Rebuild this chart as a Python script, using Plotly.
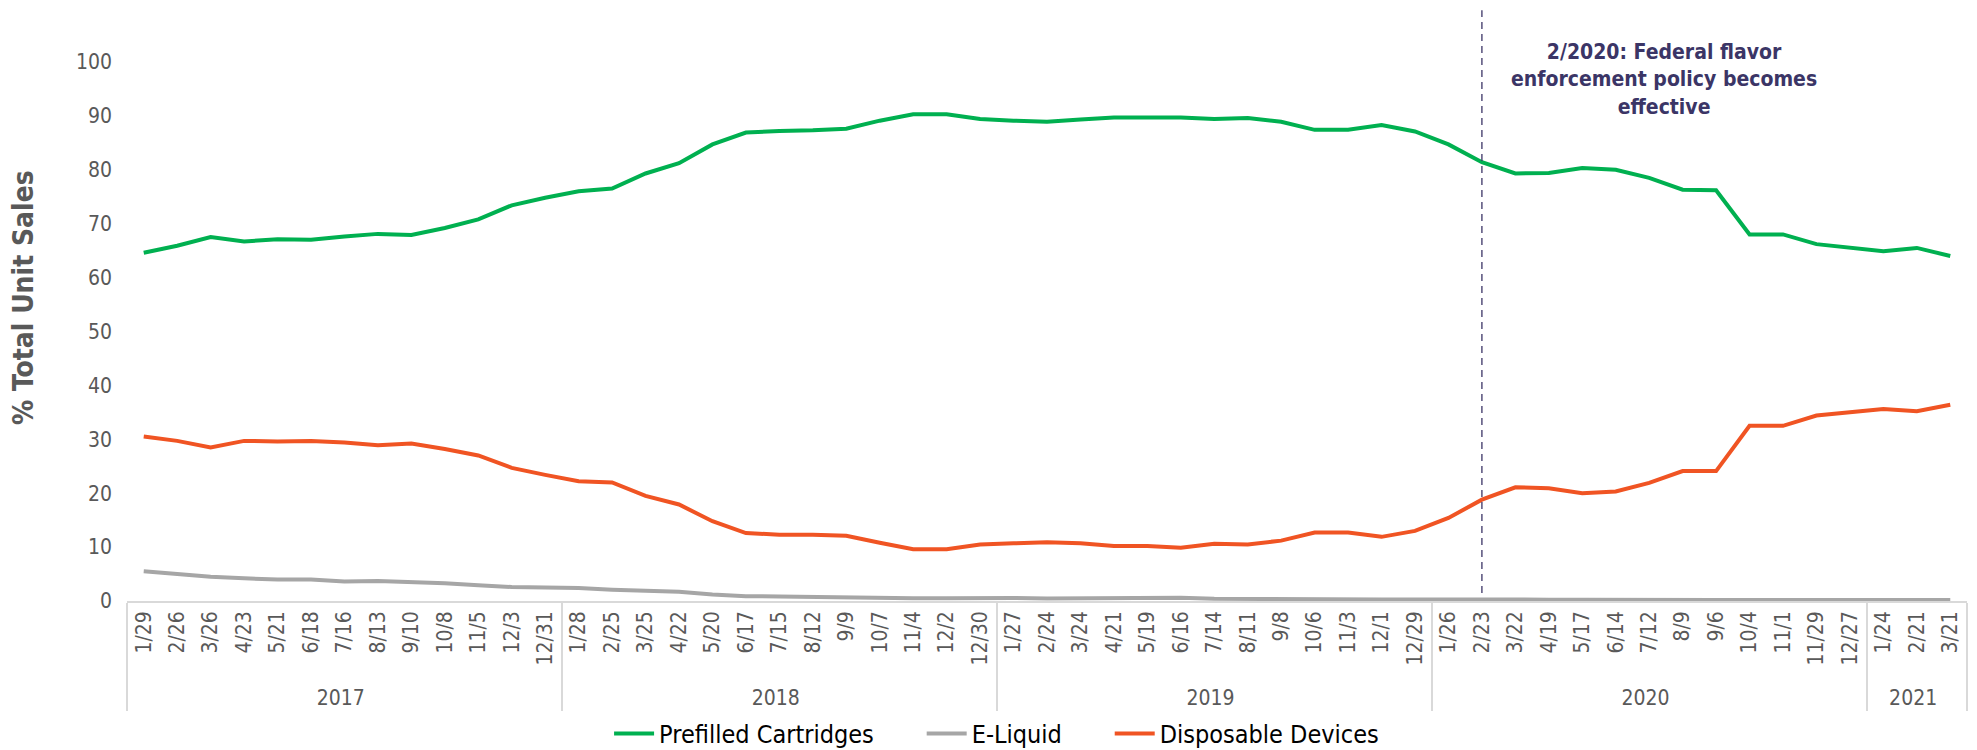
import plotly.graph_objects as go

years = ["2017"] * 13 + ["2018"] * 13 + ["2019"] * 13 + ["2020"] * 13 + ["2021"] * 3
periods = [
    "1/29", "2/26", "3/26", "4/23", "5/21", "6/18", "7/16", "8/13", "9/10", "10/8", "11/5", "12/3", "12/31",
    "1/28", "2/25", "3/25", "4/22", "5/20", "6/17", "7/15", "8/12", "9/9", "10/7", "11/4", "12/2", "12/30",
    "1/27", "2/24", "3/24", "4/21", "5/19", "6/16", "7/14", "8/11", "9/8", "10/6", "11/3", "12/1", "12/29",
    "1/26", "2/23", "3/22", "4/19", "5/17", "6/14", "7/12", "8/9", "9/6", "10/4", "11/1", "11/29", "12/27",
    "1/24", "2/21", "3/21",
]

prefilled = [
    64.6, 65.9, 67.5, 66.7, 67.1, 67.0, 67.6, 68.1, 67.9, 69.2, 70.8, 73.4, 74.8,
    76.0, 76.5, 79.3, 81.2, 84.7, 86.9, 87.2, 87.3, 87.6, 89.1, 90.3, 90.3, 89.4,
    89.1, 88.9, 89.3, 89.7, 89.7, 89.7, 89.4, 89.6, 88.9, 87.4, 87.4, 88.3, 87.1,
    84.7, 81.4, 79.3, 79.4, 80.3, 80.0, 78.5, 76.3, 76.2, 68.0, 68.0, 66.2, 65.5,
    64.9, 65.5, 64.0,
]
eliquid = [
    5.5, 5.0, 4.5, 4.2, 4.0, 4.0, 3.6, 3.7, 3.5, 3.3, 2.9, 2.6, 2.5,
    2.4, 2.1, 1.9, 1.7, 1.2, 0.9, 0.85, 0.75, 0.7, 0.5, 0.5, 0.5, 0.6,
    0.55, 0.45, 0.45, 0.45, 0.45, 0.6, 0.4, 0.35, 0.3, 0.3, 0.3, 0.3, 0.3,
    0.25, 0.25, 0.25, 0.25, 0.25, 0.2, 0.2, 0.2, 0.2, 0.2, 0.2, 0.2, 0.2,
    0.2, 0.2, 0.2,
]
disposable = [
    30.5, 29.7, 28.5, 29.7, 29.6, 29.7, 29.4, 28.9, 29.2, 28.2, 27.0, 24.7, 23.4,
    22.2, 22.0, 19.5, 17.9, 14.8, 12.6, 12.3, 12.3, 12.1, 10.8, 9.6, 9.6, 10.5,
    10.7, 10.9, 10.7, 10.2, 10.2, 9.9, 10.6, 10.5, 11.2, 12.7, 12.7, 11.9, 13.0,
    15.4, 18.8, 21.1, 20.9, 20.0, 20.3, 21.9, 24.1, 24.1, 32.5, 32.5, 34.4, 35.0,
    35.6, 35.2, 36.4,
]

series_names = ["Prefilled Cartridges", "E-Liquid", "Disposable Devices"]
series_colors = ["#00B050", "#A6A6A6", "#F05423"]

event_year = "2020"
event_period = "2/23"
event_span = [1.5, 109.6]
event_text = "2/2020: Federal flavor<br>enforcement policy becomes<br>effective"

FONT = "DejaVu Sans Condensed, Tahoma, DejaVu Sans, sans-serif"
x = [years, periods]
PAD = "\u00a0" * 6  # extra spacing between legend entries, as in the reference

fig = go.Figure()
for vals, name, color in zip([prefilled, eliquid, disposable], series_names, series_colors):
    fig.add_trace(go.Scatter(x=x, y=vals, mode="lines", name=name + PAD,
                             line=dict(color=color, width=4)))
fig.add_trace(go.Scatter(x=[[event_year, event_year], [event_period, event_period]], y=event_span,
                         mode="lines", showlegend=False, hoverinfo="skip",
                         line=dict(color="#3B3566", width=1.3, dash="7px,5px")))

fig.add_annotation(x=0.8355, xref="paper", xanchor="center", y=96.8, yref="y", yanchor="middle",
                   text="<b>" + event_text + "</b>",
                   showarrow=False, align="center",
                   font=dict(family=FONT, size=21, color="#3B3566"))

fig.add_annotation(x=-0.0565, xref="paper", xanchor="center", y=56.2, yref="y", yanchor="middle",
                   text="<b>% Total Unit Sales</b>", textangle=-90, showarrow=False,
                   font=dict(family=FONT, size=28, color="#595959"))

fig.update_layout(
    width=1977, height=750,
    margin=dict(l=127, r=10, t=8, b=149, autoexpand=False),
    paper_bgcolor="white", plot_bgcolor="white",
    font=dict(family=FONT, size=20, color="#595959"),
    showlegend=True,
    legend=dict(orientation="h", x=0.262, xanchor="left", y=-0.224, yanchor="middle",
                font=dict(family=FONT, size=25, color="#000000"),
                itemwidth=40, traceorder="normal"),
)
fig.update_xaxes(
    type="multicategory", showgrid=False, showline=True, linecolor="#D9D9D9", linewidth=1.5,
    tickangle=-90, tickfont=dict(family=FONT, size=21, color="#595959"),
    showdividers=True, dividercolor="#D9D9D9", dividerwidth=1.5,
    range=[-0.5, 54.5], zeroline=False, automargin=False,
)
fig.update_yaxes(
    range=[0, 110], tickvals=[0, 10, 20, 30, 40, 50, 60, 70, 80, 90, 100],
    showgrid=False, zeroline=False, showline=False, ticklabelstandoff=14, automargin=False,
    tickfont=dict(family=FONT, size=21, color="#595959"),
)

fig.write_html("out.html", config={"displayModeBar": False},
               post_script="document.body.style.margin='0';")
